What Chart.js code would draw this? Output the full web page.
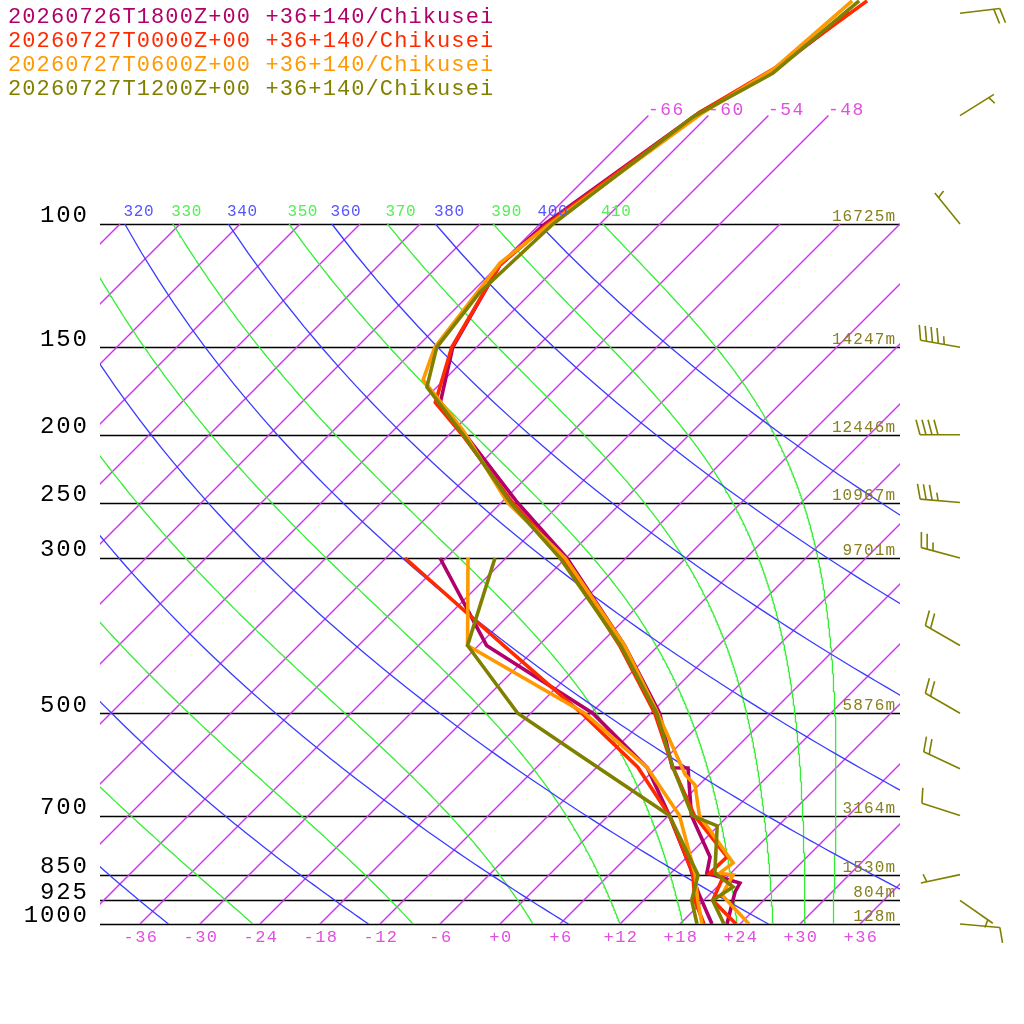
<!DOCTYPE html>
<html><head><meta charset="utf-8">
<script src="https://cdn.jsdelivr.net/npm/chart.js@4"></script>
<style>html,body{margin:0;padding:0;background:#fff}#w{width:1024px;height:1024px}</style>
</head><body><div id="w"><canvas id="c" width="1024" height="1024"></canvas></div>
<script>
// ---------- DATA ----------
const runLabels = ["20260726T1800Z+00 +36+140/Chikusei","20260727T0000Z+00 +36+140/Chikusei","20260727T0600Z+00 +36+140/Chikusei","20260727T1200Z+00 +36+140/Chikusei"];
const runColors = ["#b0006a","#ff2a00","#ff9900","#808000"];
// temperature profiles (hPa, degC)
const tP1 = [49.9,60.6,69.3,100,114.5,150,180,200,250,300,400,500,598,598.6,700,802,846,874,900,1000];
const tT1 = [-56.2,-58.0,-61.2,-65.5,-65.9,-62.4,-58.1,-52.4,-40.4,-29.9,-15.4,-5.1,1.6,3.2,8.3,14.3,15.6,19.9,20.3,22.7];
const tP2 = [48,59.8,69.3,99.6,114.5,150,180,200,250,300,400,500,597,700,802,846,851,925,1000];
const tT2 = [-55.6,-58.1,-61.2,-65.2,-65.9,-62.5,-58.6,-52.7,-40.9,-30.3,-15.9,-5.6,1.6,8.6,16.0,15.9,17.5,18.9,23.6];
const tP3 = [48,60.0,69.6,100,113.7,120.3,150,167,197,250,300,400,500,612,633,700,818,846,851,909,1000];
const tT3 = [-57.1,-58.1,-60.9,-65.0,-66.1,-65.7,-64.2,-62.1,-53.1,-41.4,-30.1,-15.4,-5.3,3.6,5.6,9.1,17.2,16.9,18.4,19.3,24.9];
const tP4 = [48,60.9,70.3,100,125,150,171,200,250,300,400,500,597,700,724,846,885,925,1000];
const tT4 = [-56.4,-57.8,-61.4,-64.7,-65.2,-64.0,-61.0,-52.6,-41.1,-30.6,-15.8,-5.4,1.6,8.4,11.9,16.4,19.6,18.9,22.4];
// dewpoint profiles
const dP1 = [300,400,500,598,700,829,900,1000];
const dT1 = [-42.6,-29.2,-11.8,-0.9,6.1,13.3,16.6,21.2];
const dP2 = [300,400,500,597,700,846,925,1000];
const dT2 = [-46.1,-27.5,-12.9,-1.9,6.1,14.2,17.1,20.4];
const dP3 = [300,400,500,598,700,846,925,1000];
const dT3 = [-39.8,-31.1,-12.6,-0.9,7.1,14.4,17.4,20.2];
const dP4 = [300,400,500,574,700,851,925,1000];
const dT4 = [-37.1,-31.1,-19.3,-8.9,6.1,14.9,16.8,19.7];
// winds
const windP = [50,70,100,150,200,250,300,400,500,600,700,850,925,1000];
const windDir = [83,58,321,280,270,275,285,300,300,295,288,258,125,95];
const windKt = [20,5,5,45,40,35,25,20,20,20,10,5,5,10];
// axes
const isobars = [100,150,200,250,300,500,700,850,925,1000];
const heights = ["16725m","14247m","12446m","10967m","9701m","5876m","3164m","1530m","804m","128m"];
const xTicks = [-36,-30,-24,-18,-12,-6,0,6,12,18,24,30,36];
const isoTopLabels = [-66,-60,-54,-48];
const dryThetas = [220,240,260,280,300,320,340,360,380,400];
const moistStartT = [-24.7,-8.7,3.3,12,18.3,23.7,27.3,30.5,33.3];
const moistLabels = [250,270,290,310,330,350,370,390,410];

// ---------- helpers ----------
const SK = 30.4;
const Y = p => Math.log(1000/p);
const pt = (T,p) => ({x: T + SK*Y(p), y: Y(p)});
function prof(P,T){return P.map((p,i)=>pt(T[i],p));}
const ds = [];
function line(data,color,w,order){ds.push({data,borderColor:color,backgroundColor:color,borderWidth:w,pointRadius:0,fill:false,tension:0,order});}
for(let T=-120;T<=36;T+=6){
  const top = (T>=-66&&T<=-48)?70:100;
  line([pt(T,1050),pt(T,550),pt(T,top)],"#cc33ee",1.4,30);
}
for(const th of dryThetas){
  const a=[];for(let p=1000;p>=100;p-=10){a.push(pt(th*Math.pow(p/1000,0.286)-273.15,p));}
  line(a,"#3b3bff",1.3,20);
}
const moistEnds=[];
for(const t0 of moistStartT){
  let T=t0+273.15, lp=Math.log(1000); const a=[pt(t0,1000)];
  const dl=-0.005;
  while(Math.exp(lp)>100.0001){
    const p=Math.exp(lp);
    const es=6.112*Math.exp(17.67*(T-273.15)/(T-29.65));
    const rs=0.622*es/Math.max(p-es,1);
    const dT=(287*T+2.5e6*rs)/(1004+2.5e6*2.5e6*rs*0.622/(287*T*T));
    T+=dT*dl; lp+=dl;
    a.push(pt(T-273.15,Math.exp(lp)));
  }
  moistEnds.push(a[a.length-1].x);
  line(a,"#33ee33",1.3,20);
}
const TP=[[tP1,tT1],[tP2,tT2],[tP3,tT3],[tP4,tT4]];
const DP=[[dP1,dT1],[dP2,dT2],[dP3,dT3],[dP4,dT4]];
for(let i=0;i<4;i++){
  line(prof(DP[i][0],DP[i][1]),runColors[i],3.6,4-i);
  line(prof(TP[i][0],TP[i][1]),runColors[i],3.6,4-i);
}
const FONT="'Liberation Mono','DejaVu Sans Mono',monospace";
function txt(c,s,x,y,size,ls){c.font=size+"px "+FONT;c.letterSpacing=ls+"px";
  if(c.textAlign==="right"){x+=ls;} c.fillText(s,x,y);}
const deco={
 id:'deco',
 beforeDatasetsDraw(ch){
   const c=ch.ctx,ys=ch.scales.y,a=ch.chartArea;
   c.save();c.strokeStyle="#000";c.lineWidth=1.3;
   for(const p of isobars){const y=Math.round(ys.getPixelForValue(Y(p)))+0.5;c.beginPath();c.moveTo(a.left,y);c.lineTo(a.right,y);c.stroke();}
   c.restore();
 },
 afterDatasetsDraw(ch){
   const c=ch.ctx,xs=ch.scales.x,ys=ch.scales.y,a=ch.chartArea;
   c.save();
   c.textBaseline="middle";c.textAlign="left";
   runLabels.forEach((t,i)=>{c.fillStyle=runColors[i];txt(c,t,8,17+24*i,22,1.1);});
   c.fillStyle="#000";c.textAlign="right";
   for(const p of isobars){txt(c,String(p),87,ys.getPixelForValue(Y(p))-8,24,1.9);}
   c.fillStyle="#888020";c.textBaseline="alphabetic";
   isobars.forEach((p,i)=>txt(c,heights[i],895,ys.getPixelForValue(Y(p))-3,16,1.1));
   c.fillStyle="#e050e0";c.textAlign="center";c.textBaseline="middle";
   for(const t of xTicks){txt(c,(t<0?"-":"+")+Math.abs(t),xs.getPixelForValue(t)+1,937,17,1.5);}
   for(const t of isoTopLabels){const q=pt(t,70);txt(c,String(t),xs.getPixelForValue(q.x)+18,110,18,1.5);}
   c.save();c.beginPath();c.rect(a.left,0,a.right-a.left,1024);c.clip();
   for(const th of dryThetas){const q=pt(th*Math.pow(0.1,0.286)-273.15,100);c.fillStyle="#5555ff";txt(c,String(th),xs.getPixelForValue(q.x)+14,212,16,0.6);}
   moistLabels.forEach((l,i)=>{c.fillStyle="#55ee55";txt(c,String(l),xs.getPixelForValue(moistEnds[i])+14,212,16,0.6);});
   c.restore();
   c.strokeStyle="#808000";c.lineWidth=1.6;c.letterSpacing="0px";
   windP.forEach((p,i)=>{
     const bx=960,by=ys.getPixelForValue(Y(p));
     const r=windDir[i]*Math.PI/180,sx=Math.sin(r),sy=-Math.cos(r);
     const L=40,ex=bx+sx*L,ey=by+sy*L;
     c.beginPath();c.moveTo(bx,by);c.lineTo(ex,ey);c.stroke();
     const px=-sy,py=sx;
     let s=windKt[i],k=0;
     while(s>=10){const ox=ex-sx*6*k,oy=ey-sy*6*k;c.beginPath();c.moveTo(ox,oy);c.lineTo(ox+px*15+sx*4,oy+py*15+sy*4);c.stroke();s-=10;k++;}
     if(s>=5){if(k===0)k=1;const ox=ex-sx*6*k,oy=ey-sy*6*k;c.beginPath();c.moveTo(ox,oy);c.lineTo(ox+px*8+sx*2,oy+py*8+sy*2);c.stroke();}
   });
   c.restore();
 }
};
new Chart(document.getElementById('c'),{
  type:'line',
  data:{datasets:ds},
  options:{responsive:false,devicePixelRatio:1,animation:false,
    layout:{padding:{left:100,right:124,top:0,bottom:100}},
    plugins:{legend:{display:false},tooltip:{enabled:false}},
    scales:{x:{type:'linear',min:-40,max:40,display:false},y:{type:'linear',min:0,max:924/304,display:false}}},
  plugins:[deco]
});
</script></body></html>
